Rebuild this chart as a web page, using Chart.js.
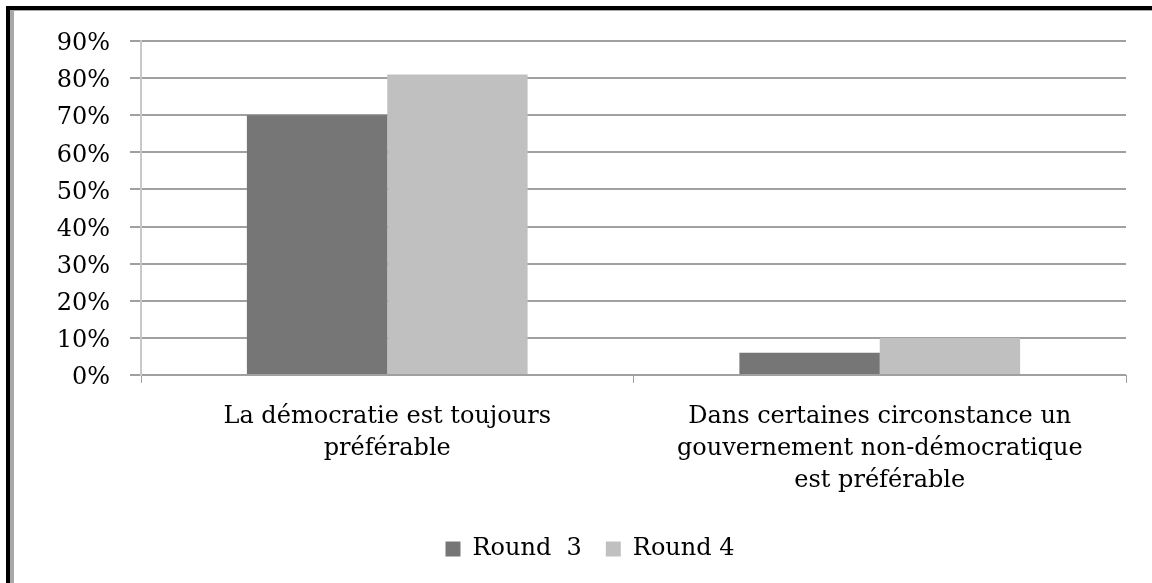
<!DOCTYPE html>
<html><head><meta charset="utf-8">
<script src="https://cdn.jsdelivr.net/npm/chart.js@4"></script>
<style>
html,body{margin:0;padding:0;background:#fff;width:1152px;height:583px;overflow:hidden;}
#frame{position:absolute;left:6px;top:6px;width:1200px;height:700px;border-left:4px solid #000;border-top:4px solid #000;}
#inner{position:absolute;left:0;top:0;width:1200px;height:700px;border-left:4px solid #a8a8a8;border-top:1px solid #a8a8a8;}
#wrap{position:absolute;left:14px;top:11px;width:1138px;height:572px;}
</style></head><body>
<div id="frame"><div id="inner"></div></div>
<div id="wrap"><canvas id="c"></canvas></div>
<script>
const categories = [
  ["La démocratie est toujours", "préférable"],
  ["Dans certaines circonstance un", "gouvernement non-démocratique", "est préférable"]
];
const seriesNames = ["Round  3", "Round 4"];
const round3 = [70, 6];
const round4 = [81, 10];
const yTicks = [0, 10, 20, 30, 40, 50, 60, 70, 80, 90];

const FONT = "'DejaVu Serif', 'Liberation Serif', serif";
new Chart(document.getElementById('c'), {
  type: 'bar',
  data: {
    labels: categories,
    datasets: [
      { label: seriesNames[0], data: round3, backgroundColor: '#767676', categoryPercentage: 0.57, barPercentage: 1.0 },
      { label: seriesNames[1], data: round4, backgroundColor: '#c0c0c0', categoryPercentage: 0.57, barPercentage: 1.0 }
    ]
  },
  options: {
    responsive: true, maintainAspectRatio: false, animation: false,
    devicePixelRatio: 1,
    layout: { padding: { top: 30, right: 26, left: 40, bottom: 12 } },
    plugins: {
      tooltip: { enabled: false },
      legend: {
        position: 'bottom',
        labels: { color: '#000', font: { family: FONT, size: 24 }, boxWidth: 15, boxHeight: 15, padding: 24 }
      }
    },
    scales: {
      x: {
        grid: { offset: true, drawOnChartArea: false, color: '#a0a0a0', lineWidth: 1, tickLength: 8 },
        border: { display: false },
        ticks: { color: '#000', font: { family: FONT, size: 24, lineHeight: 1.33 }, padding: 18, maxRotation: 0, autoSkip: false },
        afterFit: s => { s.height = 138; }
      },
      y: {
        min: 0, max: 90,
        afterBuildTicks: s => { s.ticks = yTicks.map(v => ({ value: v })); },
        grid: { color: '#a0a0a0', lineWidth: 2, tickLength: 11 },
        border: { color: '#c8c8c8', width: 2 },
        ticks: { color: '#000', font: { family: FONT, size: 24 }, padding: 20, labelOffset: 3, callback: v => v + '%' },
        afterFit: s => { s.width = 87; s.paddingTop = 0; s.paddingBottom = 0; }
      }
    }
  }
});
</script>
</body></html>
